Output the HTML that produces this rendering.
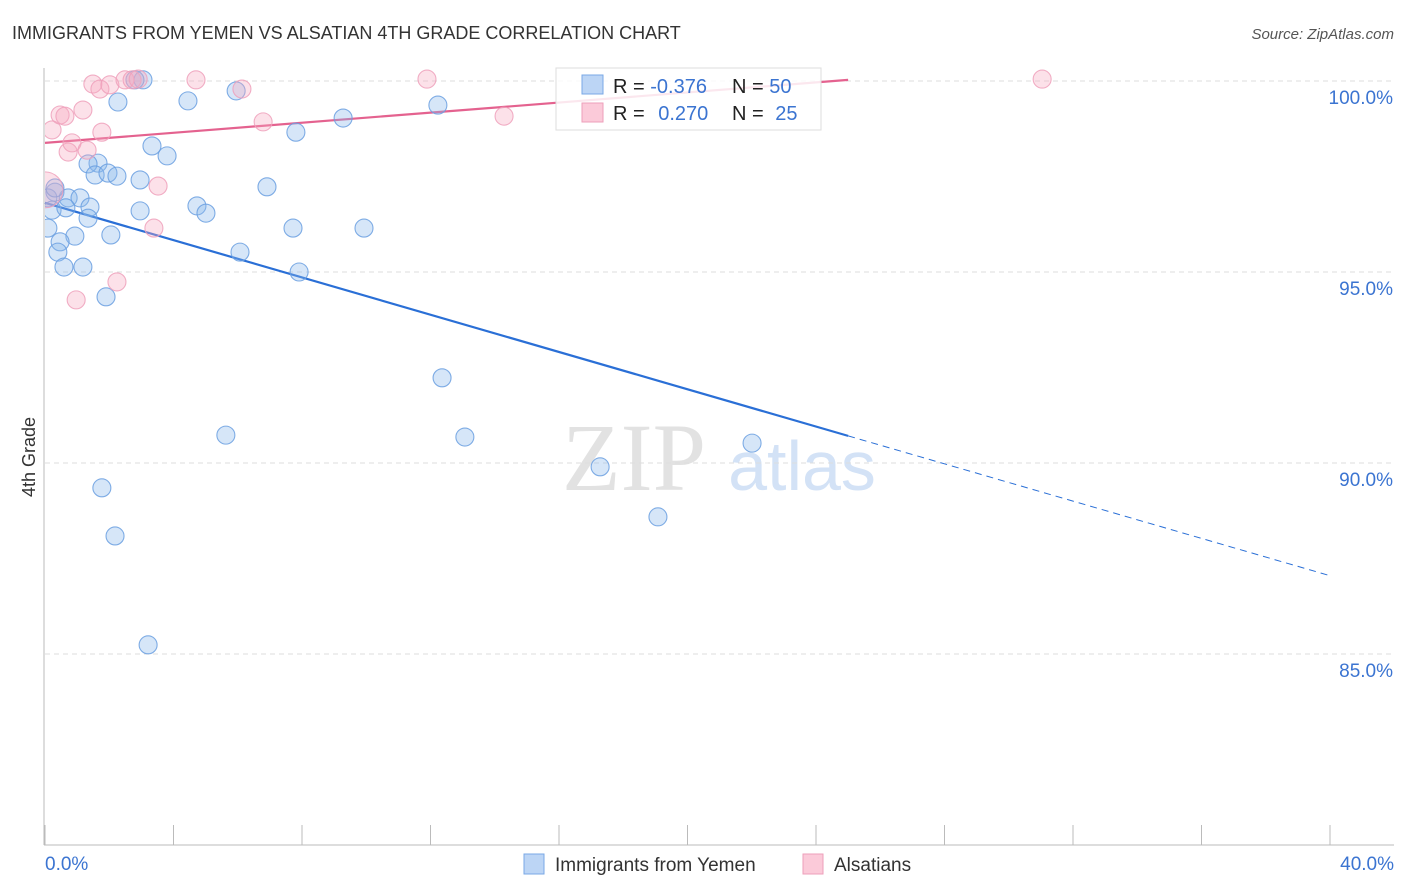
<!DOCTYPE html>
<html><head><meta charset="utf-8"><style>
body{margin:0;background:#fff;font-family:"Liberation Sans",sans-serif;}
svg{display:block}
</style></head><body>
<svg id="chart" width="1406" height="892" xmlns="http://www.w3.org/2000/svg">
<defs><clipPath id="plot"><rect x="45" y="60" width="1360" height="786"/></clipPath></defs>
<text x="12" y="39" font-size="18" fill="#333">IMMIGRANTS FROM YEMEN VS ALSATIAN 4TH GRADE CORRELATION CHART</text>
<text x="1394" y="39" font-size="15" fill="#555" font-style="italic" text-anchor="end">Source: ZipAtlas.com</text>
<text x="35" y="457" font-size="18" fill="#333" text-anchor="middle" transform="rotate(-90 35 457)">4th Grade</text>
<g>
<text x="634" y="490" font-size="96" fill="#e2e2e2" font-family="Liberation Serif,serif" text-anchor="middle">ZIP</text>
<text x="802" y="490" font-size="70" fill="#d3e2f6" text-anchor="middle">atlas</text>
</g>
<g id="grid"></g>
<g id="axes"></g>
<g id="lines"></g>
<g id="points" clip-path="url(#plot)"></g>
<g>
<rect x="556" y="68" width="265" height="62" fill="#fff" fill-opacity="0.85" stroke="#ddd"/>
<rect x="582" y="75" width="21" height="19" fill="#bcd5f5" stroke="#7aa8e6"/>
<rect x="582" y="103" width="21" height="19" fill="#fbcad9" stroke="#ee9fba"/>
<text x="613" y="93" font-size="20" fill="#222">R = <tspan fill="#3b74d1">-0.376</tspan></text>
<text x="732" y="93" font-size="20" fill="#222">N = <tspan fill="#3b74d1">50</tspan></text>
<text x="613" y="120" font-size="20" fill="#222">R = <tspan fill="#3b74d1" dx="8">0.270</tspan></text>
<text x="732" y="120" font-size="20" fill="#222">N = <tspan fill="#3b74d1" dx="6">25</tspan></text>
</g>
<g>
<rect x="524" y="854" width="20" height="20" fill="#bcd5f5" stroke="#7aa8e6"/>
<text x="555" y="871" font-size="19" fill="#333">Immigrants from Yemen</text>
<rect x="803" y="854" width="20" height="20" fill="#fbcad9" stroke="#ee9fba"/>
<text x="834" y="871" font-size="19" fill="#333">Alsatians</text>
</g>
</svg>
<script>
const yTicks=[100,95,90,85];
const yTickLabels=["100.0%","95.0%","90.0%","85.0%"];
const xTickLabels=["0.0%","40.0%"];
const blueX=[3.05,2.27,4.45,5.95,12.23,9.28,7.81,3.33,3.80,1.65,1.34,1.56,1.96,2.24,2.96,6.91,0.31,0.09,0.72,1.09,1.40,0.22,0.65,1.34,2.96,4.73,5.01,0.09,0.93,2.05,0.47,0.40,6.07,7.72,9.93,0.59,1.18,7.91,1.90,12.36,5.63,13.07,22.01,17.28,1.77,19.08,2.18,3.21,2.80,0.31];
const blueY=[100.03,99.45,99.48,99.74,99.37,99.03,98.66,98.30,98.04,97.85,97.83,97.54,97.59,97.51,97.41,97.23,97.09,96.94,96.94,96.94,96.70,96.62,96.68,96.41,96.60,96.73,96.54,96.15,95.94,95.97,95.79,95.52,95.52,96.15,96.15,95.13,95.13,95.00,94.35,92.23,90.73,90.68,90.52,89.90,89.35,88.59,88.09,85.24,100.03,97.20];
const pinkX=[0.22,0.47,0.62,0.72,0.84,1.18,1.31,1.77,1.49,1.71,2.02,2.49,2.71,2.90,4.70,6.13,6.79,3.52,3.39,2.24,0.97,11.89,14.29,31.04,0];
const pinkY=[98.72,99.11,99.08,98.14,98.38,99.24,98.19,98.66,99.92,99.79,99.90,100.03,100.03,100.05,100.03,99.79,98.93,97.25,96.15,94.74,94.27,100.05,99.08,100.05,97.15];
const blueTrend=[96.81,-0.244];
const pinkTrend=[98.38,0.066];
const X=v=>45+v*1285/40, Y=v=>81+(100-v)*38.2;
const NS="http://www.w3.org/2000/svg";
function mk(p,t,a){const e=document.createElementNS(NS,t);for(const k in a)e.setAttribute(k,a[k]);document.getElementById(p).appendChild(e);return e;}
yTicks.forEach((t,i)=>{
 const g=mk('grid','line',{x1:45,x2:1394,y1:Y(t),y2:Y(t),stroke:'#ddd','stroke-dasharray':'5,4'});
 
 
 const l=mk('axes','text',{x:1393,y:Y(t)+23,'font-size':19,fill:'#3b74d1','text-anchor':'end'});
 l.textContent=yTickLabels[i];
 
 
});
const ax=mk('axes','line',{x1:44,x2:44,y1:68,y2:845,stroke:'#bbb'});


const bx=mk('axes','line',{x1:44,x2:1394,y1:845,y2:845,stroke:'#bbb'});


for(let i=0;i<=10;i++){const t=mk('axes','line',{x1:X(i*4),x2:X(i*4),y1:825,y2:845,stroke:'#bbb'});
 
 }
[[0,'start',45],[40,'end',1394]].forEach((d,i)=>{const t=mk('axes','text',{x:d[2],y:870,'font-size':19,fill:'#3b74d1','text-anchor':d[1]});t.textContent=xTickLabels[i];
 
 });
function pts(xs,ys,fill,stroke,name){xs.forEach((x,i)=>{const r=(name==='alsatian-point'&&x===0)?18:9;
 const c=mk('points','circle',{cx:X(x),cy:Y(ys[i]),r:r,fill:fill,'fill-opacity':0.35,stroke:stroke,'stroke-width':1.1,'stroke-opacity':0.85});
 
 });}
pts(blueX,blueY,'#8ab6ec','#6a9fe0','yemen-point');
pts(pinkX,pinkY,'#f5a9c1','#eea0bb','alsatian-point');
const bt=v=>blueTrend[0]+blueTrend[1]*v, pt=v=>pinkTrend[0]+pinkTrend[1]*v;
const l1=mk('lines','line',{x1:X(0),y1:Y(bt(0)),x2:X(25),y2:Y(bt(25)),stroke:'#2a6fd6','stroke-width':2.2});


const l2=mk('lines','line',{x1:X(25),y1:Y(bt(25)),x2:X(40),y2:Y(bt(40)),stroke:'#2a6fd6','stroke-width':1,'stroke-dasharray':'7,5'});


const l3=mk('lines','line',{x1:X(0),y1:Y(pt(0)),x2:X(25),y2:Y(pt(25)),stroke:'#e4628f','stroke-width':2.2});


</script>
</body></html>
